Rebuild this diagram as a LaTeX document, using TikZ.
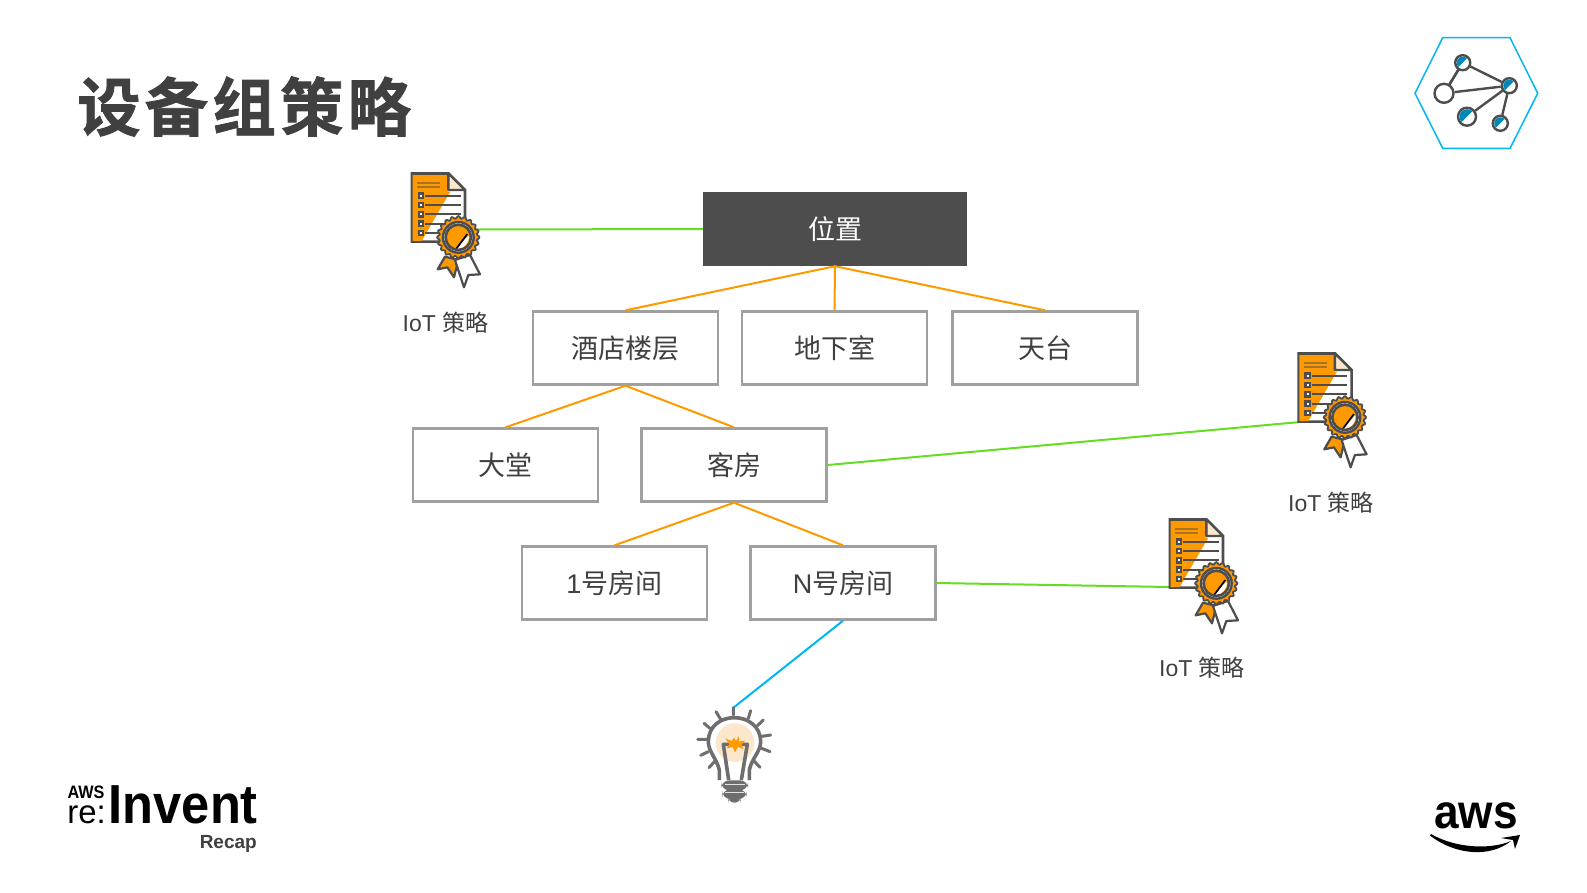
\documentclass[tikz,border=0pt]{standalone}
\usepackage{fontspec}
\setmainfont{Liberation Sans}
\newfontfamily\cjk{Noto Sans CJK SC}
\newfontfamily\cjkbold[LetterSpace=6.5,FakeBold=1.2]{Noto Sans CJK SC Bold}
\definecolor{txt}{HTML}{404040}
\definecolor{dark}{HTML}{4D4D4D}
\definecolor{awsorange}{HTML}{FF9900}
\definecolor{linkgreen}{HTML}{66DD22}
\definecolor{linkblue}{HTML}{00B7F1}
\definecolor{boxline}{HTML}{A0A0A0}
\definecolor{peach}{HTML}{FDE7CC}
\definecolor{bulbgray}{HTML}{6E6E6E}
\definecolor{netblue}{HTML}{0088BB}
\tikzset{
  boxnode/.style={draw=boxline,line width=2.4pt,fill=white,minimum width=185pt,minimum height=73pt,inner sep=0pt,text=txt,font=\fontsize{27}{30}\selectfont},
  topnode/.style={boxnode,draw=dark,fill=dark,text=white,minimum width=262pt,minimum height=72pt},
  treeline/.style={awsorange,line width=2pt},
  policyline/.style={linkgreen,line width=2pt},
  deviceline/.style={linkblue,line width=2pt},
  iotlabel/.style={text=txt,font=\fontsize{23}{26}\selectfont,inner sep=0pt},
  netnode/.style={circle,draw=dark,fill=white,line width=2.4pt,inner sep=0pt},
  netline/.style={dark,line width=2.4pt},
}
% certificate icon, drawn at 3x coordinates, #1 and #2 = shift
\newcommand{\certicon}[2]{%
\begin{scope}[shift={(#1,#2)},x=0.3333pt,y=-0.3333pt]
  \draw[dark,line width=2.6pt,fill=white] (66,40)--(175,40)--(225,90)--(225,245)--(66,245)--cycle;
  \fill[awsorange] (68,42)--(173,42)--(173,95)--(181,95)--(95,243)--(68,243)--cycle;
  \draw[dark,line width=2.4pt,fill=peach,line join=round] (175,40)--(225,90)--(175,90)--cycle;
  \draw[dark,line width=2.6pt] (66,40)--(175,40);
  \draw[awsorange!50!dark,line width=2.2pt] (82,68)--(150,68) (82,82)--(150,82);
  \foreach \yy in {107,135,163,191,219}{
    \draw[dark,line width=2.2pt] (105,\yy)--(212,\yy);
    \fill[dark] (83,\yy-10) rectangle (103,\yy+10);
    \fill[white] (90,\yy-3) rectangle (96,\yy+3);
  }
  \draw[dark,line width=2.2pt,fill=awsorange,line join=round] (165,290)--(143,328)--(172,322)--(192,352)--(205,300)--cycle;
  \draw[dark,line width=2.2pt,fill=white,line join=round] (195,300)--(222,382)--(235,345)--(270,343)--(240,285)--cycle;
  \draw[dark,line width=1.8pt,fill=awsorange] plot[domain=0:360,samples=145,smooth] ({205+(60+3.5*cos(20*\x))*cos(\x)},{232+(60+3.5*cos(20*\x))*sin(\x)});
  \draw[dark,line width=2.4pt,fill=white] (205,232) circle[radius=46];
  \fill[awsorange] (205,232) circle[radius=38];
  \fill[white] (196,268) -- (236,226) .. controls (240,250) and (220,268) .. (196,268) -- cycle;
  \draw[black,line width=1.7pt] (196,270)--(232,222);
  \draw[dark,line width=2.6pt] (205,232) circle[radius=38];
\end{scope}}
\newcommand{\halfdisc}[3]{\fill[netblue] (#1)+(45:#2-1.5pt) arc[start angle=45,end angle=225,radius=#2-1.5pt] -- cycle;}
\begin{document}
\begin{tikzpicture}[x=1pt,y=-1pt]
\useasboundingbox (0,0) rectangle (1587,892);
\fill[white] (0,0) rectangle (1587,892);

\node[anchor=west,inner sep=0pt,text=txt] (title) at (77,106.5) {\fontsize{63.5}{70}\selectfont\cjkbold 设备组策略};

% tree nodes
\node[topnode] (loc) at (835,229) {\cjk 位置};
\node[boxnode] (floors) at (625.5,348) {\cjk 酒店楼层};
\node[boxnode] (base) at (834.5,348) {\cjk 地下室};
\node[boxnode] (roof) at (1045,348) {\cjk 天台};
\node[boxnode] (lobby) at (505.5,465) {\cjk 大堂};
\node[boxnode] (rooms) at (734,465) {\cjk 客房};
\node[boxnode] (room1) at (614.5,583) {1\cjk 号房间};
\node[boxnode] (roomn) at (843,583) {N\cjk 号房间};

\coordinate (p1) at (476,229.5);
\coordinate (p2) at (1300,422);
\coordinate (p3) at (1170,587);
\coordinate (bulbtop) at (733,708);

\draw[treeline] (loc.south)--(floors.north);
\draw[treeline] (loc.south)--(base.north);
\draw[treeline] (loc.south)--(roof.north);
\draw[treeline] (floors.south)--(lobby.north);
\draw[treeline] (floors.south)--(rooms.north);
\draw[treeline] (rooms.south)--(room1.north);
\draw[treeline] (rooms.south)--(roomn.north);
\draw[policyline] (p1)--(loc.west);
\draw[policyline] (rooms.east)--(p2);
\draw[policyline] (roomn.east)--(p3);
\draw[deviceline] (roomn.south)--(bulbtop);

\certicon{390}{160}
\certicon{1276.6}{340}
\certicon{1148}{506}

\node[iotlabel] (l1) at (445.5,323) {IoT \cjk 策略};
\node[iotlabel] (l2) at (1331,503) {IoT \cjk 策略};
\node[iotlabel] (l3) at (1202,668) {IoT \cjk 策略};

% bulb
\begin{scope}[shift={(680,695)},x=0.3333pt,y=-0.3333pt]
  \fill[peach] (165,143) circle[radius=58];
  \draw[bulbgray,line width=3pt,line cap=round] (160,60)--(160,38) (122,73)--(108,50) (205,70)--(212,47) (90,100)--(72,85) (232,92)--(250,75) (80,133)--(53,133) (245,124)--(272,120) (85,170)--(62,181) (245,160)--(270,170) (105,198)--(87,218) (222,198)--(240,217);
  \draw[bulbgray,line width=3.6pt] (118,255)--(118,225) .. controls (110,190) and (85,170) .. (85,140) .. controls (85,95) and (120,68) .. (163,68) .. controls (205,68) and (242,95) .. (242,140) .. controls (242,170) and (215,190) .. (208,225)--(208,255);
  \draw[bulbgray,line width=3.6pt,line join=round] (146,255)--(130,148)--(202,148)--(184,255);
  \fill[awsorange] (165,172)--(158,156)--(140,160)--(148,148)--(136,130)--(155,138)--(162,128)--(168,138)--(176,124)--(178,140)--(195,136)--(185,150)--(190,162)--(174,156)--cycle;
  \fill[bulbgray,rounded corners=8pt] (124,256) rectangle (204,286);
  \fill[bulbgray,rounded corners=8pt] (127,283) rectangle (200,312);
  \fill[bulbgray,rounded corners=6pt] (145,306) rectangle (182,323);
  \draw[white!80!bulbgray,line width=1.1pt] (134,268)--(194,268) (136,293)--(192,293);
\end{scope}

% network icon
\draw[linkblue,line width=1.5pt] (1415,93.3)--(1442.7,37.7)--(1510,37.7)--(1537.7,93.3)--(1510,148.3)--(1442.7,148.3)--cycle;
\draw[netline] (1462.7,62.7)--(1444,93.3);
\node[netnode,minimum size=15pt] (na) at (1462.7,62.7) {};
\node[netnode,minimum size=19pt] (nb) at (1444,93.3) {};
\node[netnode,minimum size=15pt] (nc) at (1509.3,85.7) {};
\node[netnode,minimum size=18pt] (nd) at (1467,116.7) {};
\node[netnode,minimum size=15pt] (ne) at (1500.3,123.3) {};
\draw[netline] (na)--(nb);
\draw[netline] (na)--(nc);
\draw[netline] (nb)--(nc);
\draw[netline] (nd)--(nc);
\draw[netline] (ne)--(nc);
\halfdisc{na}{7.5pt}{}
\halfdisc{nc}{7.5pt}{}
\halfdisc{nd}{9pt}{}
\halfdisc{ne}{7.5pt}{}

% re:Invent logo
\node[anchor=base east,inner sep=0pt,font=\fontsize{55}{60}\bfseries\selectfont,xscale=0.92] (inv) at (258,823) {Invent};
\node[anchor=base east,inner sep=0pt,font=\fontsize{33}{36}\selectfont,xscale=1] (re) at (106,823) {re:};
\node[anchor=base,inner sep=0pt,font=\fontsize{18}{20}\bfseries\selectfont,xscale=0.9] (awssmall) at (86,798) {AWS};
\node[anchor=base east,inner sep=0pt,font=\fontsize{19}{22}\bfseries\selectfont,text=black!75] (recap) at (257,848) {Recap};

% aws logo
\node[anchor=base,inner sep=0pt,font=\fontsize{48}{52}\bfseries\selectfont,xscale=0.92] (aws) at (1476,828) {aws};
\fill[black] (1430,835.5) .. controls (1455,855) and (1490,858) .. (1511,841) .. controls (1490,850) and (1455,848) .. (1431,834) -- cycle;
\fill[black] (1501,838) -- (1520,835) -- (1515,849) -- (1513,840) -- cycle;
\end{tikzpicture}
\end{document}
